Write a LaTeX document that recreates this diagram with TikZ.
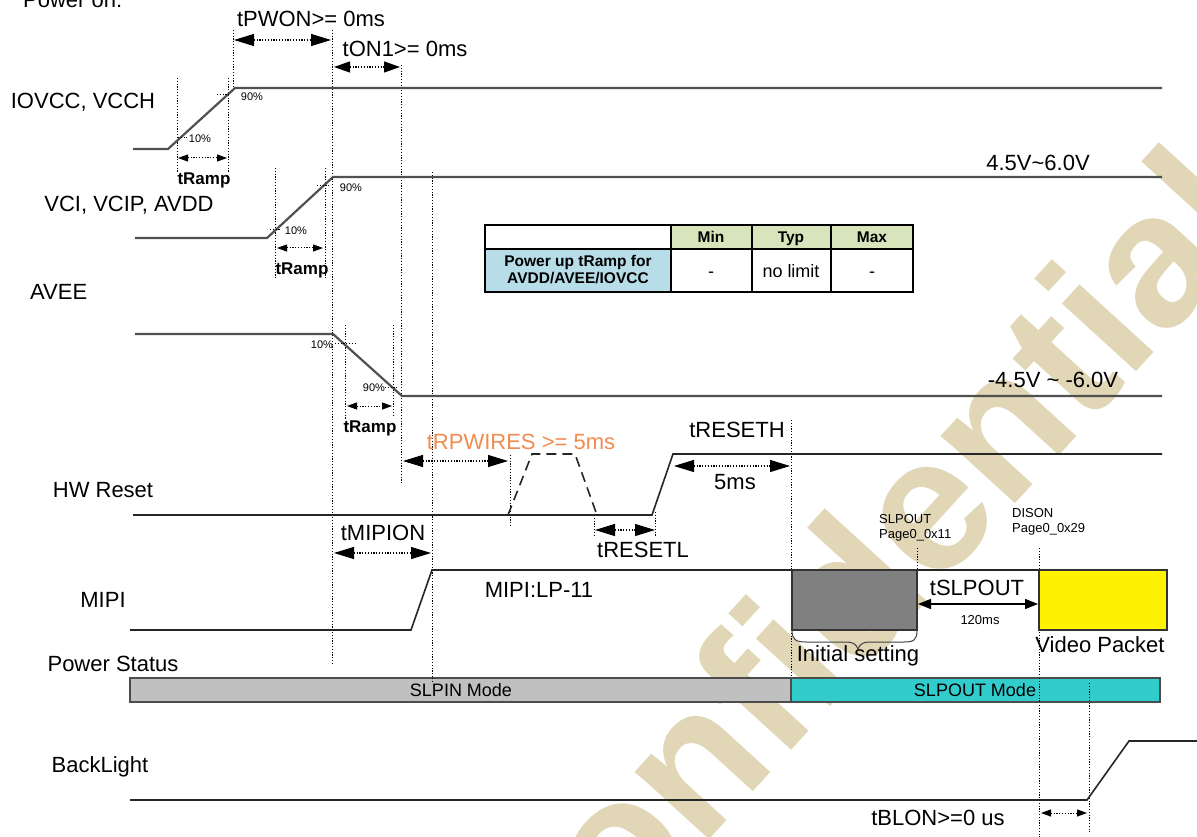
\documentclass[tikz,border=0pt]{standalone}
\usepackage{fontspec}
\setmainfont{Liberation Sans}
\usetikzlibrary{arrows.meta}
\definecolor{sigc}{RGB}{80,80,80}
\definecolor{wm}{RGB}{225,214,182}
\definecolor{orng}{RGB}{240,140,80}
\definecolor{slpin}{RGB}{192,192,192}
\definecolor{slpout}{RGB}{51,204,204}
\definecolor{initbox}{RGB}{128,128,128}
\definecolor{hdrgreen}{RGB}{215,228,188}
\definecolor{cellblue}{RGB}{183,221,232}
\newcommand{\fsz}[2]{\fontsize{#1}{#2}\selectfont}
\begin{document}
\begin{tikzpicture}[x=1pt,y=-1pt,
  every node/.style={inner sep=0pt, font=\fsz{22}{26}},
  sig/.style={line width=2.2pt, draw=sigc},
  sigk/.style={line width=1.6pt, draw=black!85},
  vdot/.style={line width=1pt, dash pattern=on 1.2pt off 1.6pt},
  bigdim/.style={line width=1.2pt, dash pattern=on 1.2pt off 1.6pt, {Triangle[length=20pt,width=12pt]}-{Triangle[length=20pt,width=12pt]}},
  meddim/.style={line width=1.2pt, dash pattern=on 1.2pt off 1.6pt, {Triangle[length=16pt,width=11pt]}-{Triangle[length=16pt,width=11pt]}},
  smalldim/.style={line width=1pt, dash pattern=on 1.2pt off 1.6pt, {Triangle[length=10pt,width=7pt]}-{Triangle[length=10pt,width=7pt]}},
  pct/.style={font=\fsz{11}{11}},
  ramp/.style={font=\bfseries\fsz{17}{17}},
  tbold/.style={font=\bfseries\fsz{15.5}{17}, align=center},
  tnorm/.style={font=\fsz{18}{18}, anchor=base},
  small/.style={font=\fsz{13}{14.5}, align=left, anchor=west}
]
\useasboundingbox (0,0) rectangle (1197,837);
\clip (0,0) rectangle (1197,837);
\fill[white] (0,0) rectangle (1197,837);

% watermark
\node[rotate=47.6, text=wm, font=\bfseries\fsz{190}{190}] (wmark) at (850,585) {Confidential};

% ---------- left labels ----------
\node[anchor=base west] (lpower) at (23,8) {Power on:};
\node (liovcc) at (83,102) {IOVCC, VCCH};
\node (lvci) at (129,205) {VCI, VCIP, AVDD};
\node[anchor=west] (lavee) at (30,292) {AVEE};
\node (lhw) at (103,490) {HW Reset};
\node (lmipi) at (103,600) {MIPI};
\node (lps) at (113,664) {Power Status};
\node (lbl) at (100,767) {BackLight};

% ---------- vertical dotted guides ----------
\draw[vdot] (177,78) -- (177,172);
\draw[vdot] (228,78) -- (228,172);
\draw[vdot] (233,30) -- (233,90);
\draw[vdot] (332,30) -- (332,665);
\draw[vdot] (401,65) -- (401,485);
\draw[vdot] (275,168) -- (275,278);
\draw[vdot] (325,168) -- (325,278);
\draw[vdot] (432,172) -- (432,682);
\draw[vdot] (345,325) -- (345,420);
\draw[vdot] (393,325) -- (393,417);
\draw[vdot] (510,455) -- (510,527);
\draw[vdot] (594,515) -- (594,537);
\draw[vdot] (655,512) -- (655,537);
\draw[vdot] (791,420) -- (791,680);
\draw[vdot] (917,548) -- (917,570);
\draw[vdot] (1039,548) -- (1039,837);
\draw[vdot] (1089,683) -- (1089,832);

% ---------- signals ----------
\draw[sig] (133,149) -- (168,149) -- (235,88) -- (1162,88);
\draw[sig] (135,238) -- (267,238) -- (333,177) -- (1162,177);
\draw[sig] (135,334) -- (333,334) -- (402,396) -- (1162,396);
\draw[sigk] (133,515) -- (652,515) -- (673,454) -- (1162,454);
\draw[sigk, dash pattern=on 10pt off 6pt] (508,515) -- (532,454) -- (575,454) -- (597,515);
\draw[sigk] (130,630) -- (411,630) -- (432,570) -- (1039,570);
\draw[sigk] (130,800) -- (1087,800) -- (1129,741) -- (1200,741);

% percent ticks and labels
\draw[vdot] (217,95) -- (231,95);
\node[pct] (p90a) at (252,97) {90\%};
\draw[vdot] (178,138) -- (187,138);
\node[pct] (p10a) at (200,139) {10\%};
\draw[vdot] (317,186) -- (330,186);
\node[pct] (p90b) at (351,188) {90\%};
\draw[vdot] (270,230) -- (280,230);
\node[pct] (p10b) at (296,231) {10\%};
\draw[vdot] (335,343) -- (355,343);
\node[pct] (p10c) at (322,345) {10\%};
\draw[vdot] (385,387) -- (397,387);
\node[pct] (p90c) at (374,388) {90\%};

% tRamp
\draw[smalldim] (178,158) -- (227,158);
\node[ramp] (tr1) at (204,180) {tRamp};
\draw[smalldim] (277,248) -- (323,248);
\node[ramp] (tr2) at (302,270) {tRamp};
\draw[smalldim] (347,406) -- (392,406);
\node[ramp] (tr3) at (370,428) {tRamp};

% ---------- timing dimensions ----------
\draw[bigdim] (234,40) -- (331,40);
\node (tpwon) at (311,19) {tPWON>= 0ms};
\draw[meddim] (334,67) -- (400,67);
\node (ton1) at (405,49) {tON1>= 0ms};
\draw[bigdim] (334,553) -- (431,553);
\node (tmipion) at (383,533) {tMIPION};
\draw[bigdim] (403,461) -- (508,461);
\node[text=orng] (trpw) at (521,442) {tRPWIRES >= 5ms};
\draw[bigdim] (595,530) -- (655,530);
\node (treset) at (643,550) {tRESETL};
\draw[bigdim] (674,466) -- (790,466);
\node (t5ms) at (735,482) {5ms};
\node (treseth) at (737,430) {tRESETH};
\draw[smalldim] (1041,813) -- (1087,813);
\node (tblon) at (938,818) {tBLON>=0 us};

% voltage labels
\node (v1) at (1038,163) {4.5V\textasciitilde 6.0V};
\node (v2) at (1053,380) {-4.5V \textasciitilde\ -6.0V};

% ---------- MIPI boxes ----------
\draw[line width=1.5pt, draw=black!80, fill=initbox] (792,570) rectangle (917,630);
\draw[line width=1.5pt, draw=black!80, fill=yellow] (1039,570) rectangle (1167,630);
\draw[line width=1.5pt, {Triangle[length=13pt,width=10pt]}-{Triangle[length=13pt,width=10pt]}] (918,604) -- (1038,604);
\node (tslp) at (977,588) {tSLPOUT};
\node[font=\fsz{13}{13}] (t120) at (980,620) {120ms};
\node (mlp) at (539,590) {MIPI:LP-11};
\draw[line width=1pt, draw=black!75] (792,630) .. controls (792,640) and (796,642) .. (806,642) -- (846,642) .. controls (853,642) and (856,644) .. (858,649) .. controls (860,644) and (863,642) .. (870,642) -- (904,642) .. controls (914,642) and (917,640) .. (917,630);
\node (init) at (858,656) {Initial setting};
\node (vidp) at (1100,645) {Video Packet};
\node[small] (slpcmd) at (879,528) {SLPOUT\\Page0\_0x11};
\node[small] (discmd) at (1012,522) {DISON\\Page0\_0x29};

% ---------- power status ----------
\draw[line width=1.5pt, draw=black!70, fill=slpin] (130,678) rectangle (791,702);
\draw[line width=1.5pt, draw=black!70, fill=slpout] (791,678) rectangle (1160,702);
\node[font=\fsz{18}{18}] (slpinm) at (461,690) {SLPIN Mode};
\node[font=\fsz{18}{18}] (slpoutm) at (975,690) {SLPOUT Mode};
\draw[vdot] (432,678) -- (432,682);
\draw[vdot] (1039,678) -- (1039,702);
\draw[vdot] (1089,683) -- (1089,702);

% ---------- table ----------
\fill[hdrgreen] (671,225) rectangle (913,249);
\fill[cellblue] (485,249) rectangle (671,292);
\draw[line width=1.2pt] (485,249) -- (913,249);
\draw[line width=1.2pt] (671,225) -- (671,292);
\draw[line width=1.2pt] (752,225) -- (752,292);
\draw[line width=1.2pt] (831,225) -- (831,292);
\draw[line width=2pt] (485,225) rectangle (913,292);
\node[tbold, anchor=base] (hmin) at (711,243) {Min};
\node[tbold, anchor=base] (htyp) at (791,243) {Typ};
\node[tbold, anchor=base] (hmax) at (872,243) {Max};
\node[tbold] (rowlab) at (578,270) {Power up tRamp for\\AVDD/AVEE/IOVCC};
\node[tnorm] (cmin) at (711,277) {-};
\node[tnorm] (ctyp) at (791,277) {no limit};
\node[tnorm] (cmax) at (872,277) {-};
\end{tikzpicture}
\end{document}
